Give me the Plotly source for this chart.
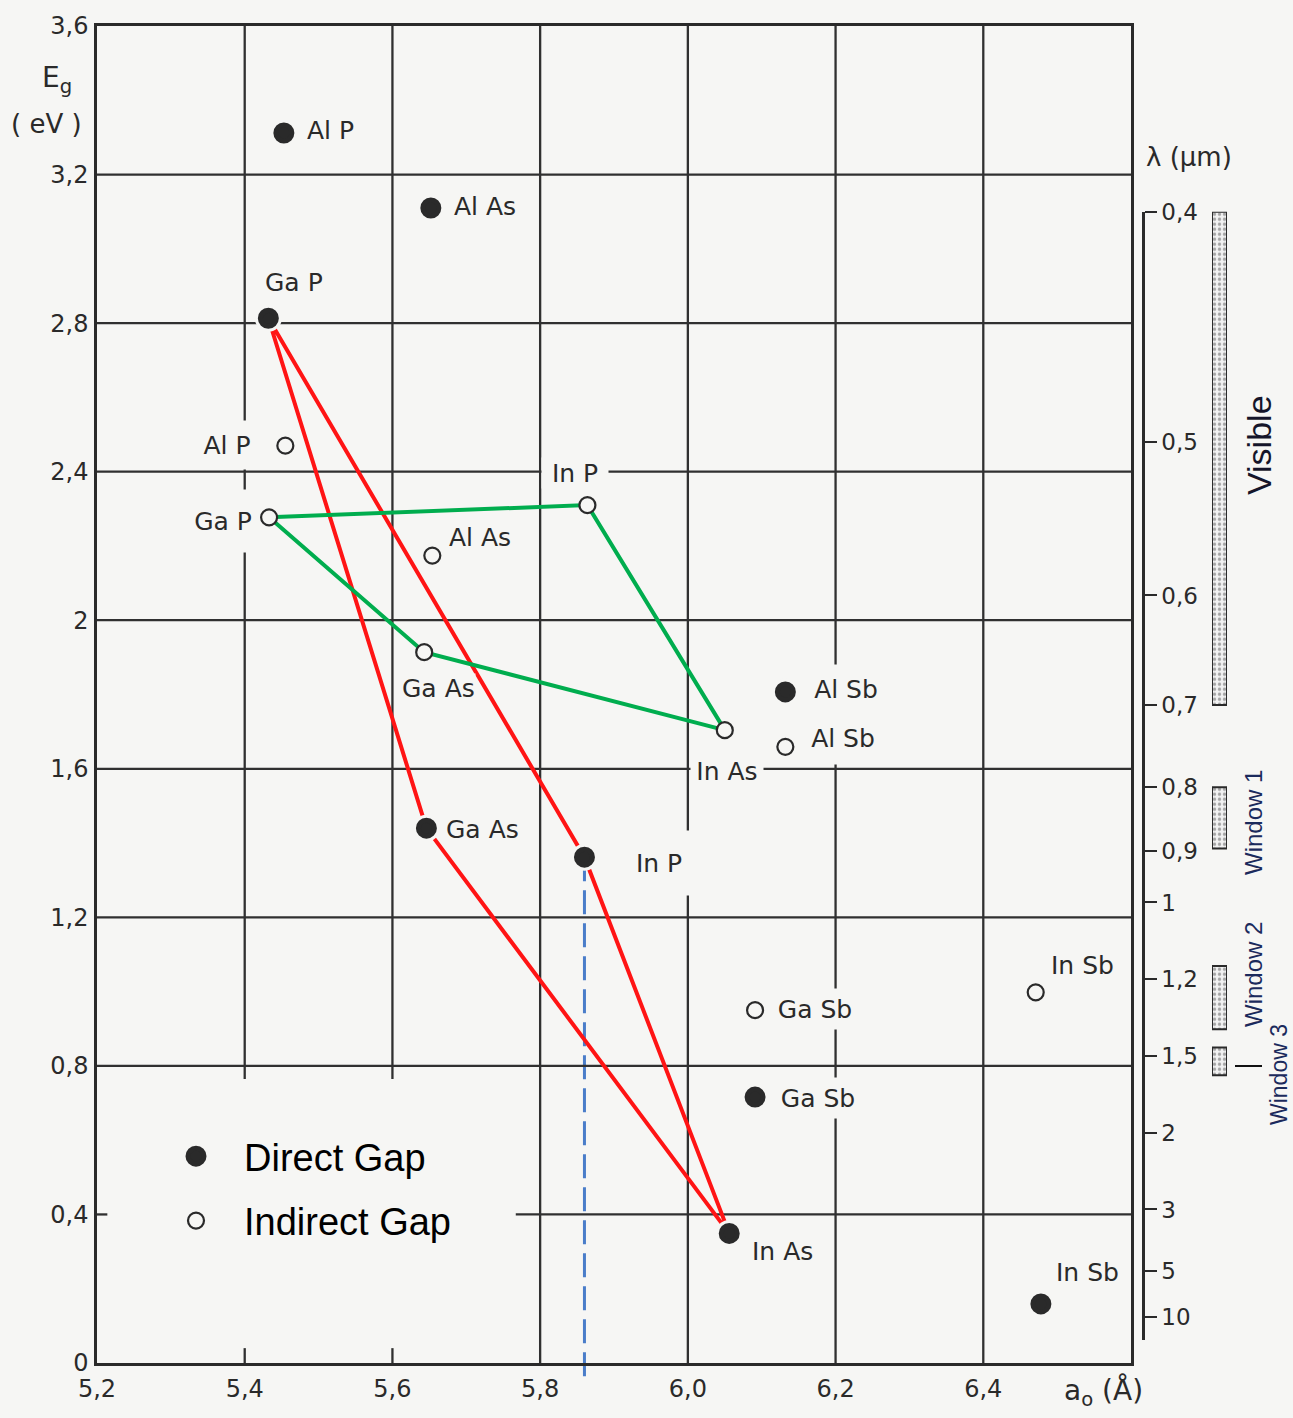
import plotly.graph_objects as go

# ---------------- data ----------------
compounds = ["AlP", "AlAs", "GaP", "GaAs", "InP", "AlSb", "GaSb", "InAs", "InSb"]
label_text = ["Al P", "Al As", "Ga P", "Ga As", "In P", "Al Sb", "Ga Sb", "In As", "In Sb"]

direct_a0 = [5.453, 5.652, 5.432, 5.646, 5.860, 6.132, 6.091, 6.056, 6.478]
direct_eg = [3.312, 3.110, 2.813, 1.440, 1.362, 1.807, 0.716, 0.349, 0.159]

indirect_a0 = [5.455, 5.654, 5.433, 5.643, 5.864, 6.132, 6.091, 6.050, 6.471]
indirect_eg = [2.470, 2.174, 2.277, 1.914, 2.310, 1.659, 0.950, 1.704, 0.998]

red_path = ["GaP", "GaAs", "InAs", "InP", "GaP"]      # direct-gap quadrilateral
green_path = ["GaP", "InP", "InAs", "GaAs", "GaP"]    # indirect-gap quadrilateral
lattice_marker = "InP"                                 # dashed vertical at InP

x_tickvals = [5.2, 5.4, 5.6, 5.8, 6.0, 6.2, 6.4]
x_ticktext = ["5,2", "5,4", "5,6", "5,8", "6,0", "6,2", "6,4"]
y_tickvals = [0, 0.4, 0.8, 1.2, 1.6, 2.0, 2.4, 2.8, 3.2, 3.6]
y_ticktext = ["0", "0,4", "0,8", "1,2", "1,6", "2", "2,4", "2,8", "3,2", "3,6"]

lambda_ticks = [0.4, 0.5, 0.6, 0.7, 0.8, 0.9, 1, 1.2, 1.5, 2, 3, 5, 10]
lambda_text = ["0,4", "0,5", "0,6", "0,7", "0,8", "0,9", "1", "1,2", "1,5", "2", "3", "5", "10"]
HC = 1.24  # eV * um

band_names = ["Visible", "Window 1", "Window 2", "Window 3"]
band_lambda_short = [0.40, 0.80, 1.16, 1.46]
band_lambda_long = [0.70, 0.895, 1.38, 1.60]

# ---------------- styling ----------------
BG = "#f6f6f4"
INK = "#2a2a2a"
LETTER = "DejaVu Sans"
FIG_W, FIG_H = 1293, 1418
M_L, M_R, M_T, M_B = 97, 13, 26, 55
PW = FIG_W - M_L - M_R
PH = FIG_H - M_T - M_B
X_RANGE = [5.2, 6.6]
Y_RANGE = [0, 3.6]


def px(x):
    return (x - M_L) / PW


def py(y):
    return (FIG_H - M_B - y) / PH


x_dom_end = px(1131)

# label offsets in pixels (dx right, dy down)
direct_label_dx = [47, 54, 26, 56, 75, 61, 63, 53, 47]
direct_label_dy = [-2, -1, -36, 1, 6, -3, 1, 18, -31]
indirect_label_dx = [-58, 48, -46, 14, -12, 58, 60, 2, 47]
indirect_label_dy = [-1, -18, 4, 36, -32, -9, -1, 41, -27]
mask_boxes = {("i", "AlP"): (60, 48), ("i", "GaP"): (62, 62), ("i", "InP"): (66, 30),
              ("i", "InAs"): (72, 30), ("d", "InP"): (64, 64),
              ("d", "AlSb"): (72, 48), ("i", "AlSb"): (72, 52),
              ("d", "GaSb"): (76, 40), ("i", "GaSb"): (76, 40)}


def path_xy(names, xs, ys):
    idx = [compounds.index(n) for n in names]
    return [xs[i] for i in idx], [ys[i] for i in idx]


fig = go.Figure()

rx, ry = path_xy(red_path, direct_a0, direct_eg)
fig.add_trace(go.Scatter(x=rx, y=ry, mode="lines", line=dict(color="#ff1414", width=4),
                         showlegend=False, hoverinfo="skip"))
gx, gy = path_xy(green_path, indirect_a0, indirect_eg)
fig.add_trace(go.Scatter(x=gx, y=gy, mode="lines", line=dict(color="#00ad4e", width=4),
                         showlegend=False, hoverinfo="skip"))
# halo so lines stop short of the filled dots
fig.add_trace(go.Scatter(x=direct_a0, y=direct_eg, mode="markers",
                         marker=dict(size=27, color=BG), showlegend=False, hoverinfo="skip"))
fig.add_trace(go.Scatter(x=direct_a0, y=direct_eg, mode="markers", name="Direct Gap", legendgroup="d",
                         marker=dict(size=16, color=INK, line=dict(color=INK, width=5))))
fig.add_trace(go.Scatter(x=indirect_a0, y=indirect_eg, mode="markers", name="Indirect Gap", legendgroup="i",
                         marker=dict(size=16, color=BG, line=dict(color=INK, width=2.2))))

# spectral bands on the wavelength scale
fig.add_trace(go.Bar(
    x=[0] * len(band_names),
    base=[HC / l for l in band_lambda_long],
    y=[HC / s - HC / l for s, l in zip(band_lambda_short, band_lambda_long)],
    width=1, xaxis="x2", yaxis="y2", showlegend=False, hoverinfo="skip", textposition="none",
    marker=dict(color="#f0f0f0", line=dict(color=INK, width=2),
                pattern=dict(shape=".", fgcolor="#555555", bgcolor="#f2f2f2", size=5, solidity=0.35)),
))

# ---------------- grid as shapes ----------------
shapes = []
grid_line = dict(color="#303030", width=2.3)
for xv in x_tickvals[1:]:
    shapes.append(dict(type="line", xref="x", yref="y", x0=xv, x1=xv, y0=Y_RANGE[0], y1=Y_RANGE[1],
                       line=grid_line, layer="below"))
for yv in y_tickvals[1:-1]:
    shapes.append(dict(type="line", xref="x", yref="y", x0=X_RANGE[0], x1=X_RANGE[1], y0=yv, y1=yv,
                       line=grid_line, layer="below"))
# blank area where the legend sits
shapes.append(dict(type="rect", xref="x", yref="y", x0=5.2, x1=5.767, y0=0.0, y1=0.765,
                   fillcolor=BG, line=dict(width=0), layer="below"))
for xv in (5.4, 5.6):
    shapes.append(dict(type="line", xref="x", yref="y", x0=xv, x1=xv, y0=0, y1=0.04,
                       line=grid_line, layer="below"))
shapes.append(dict(type="line", xref="x", yref="y", x0=5.2, x1=5.214, y0=0.4, y1=0.4,
                   line=grid_line, layer="below"))
# dashed lattice-match line
li = compounds.index(lattice_marker)
shapes.append(dict(type="line", xref="x", yref="paper", x0=direct_a0[li], x1=direct_a0[li],
                   y0=direct_eg[li] / Y_RANGE[1], y1=-15 / PH,
                   line=dict(color="#4a7dc9", width=3, dash="24px,9px"), layer="below"))
# leader dash next to the Window 3 band
shapes.append(dict(type="line", xref="paper", yref="paper", x0=px(1235), x1=px(1262),
                   y0=py(1066), y1=py(1066), line=dict(color="#111111", width=2)))

# ---------------- annotations ----------------
ann = []


def add_label(kind, i, xs, ys, dxs, dys):
    box = mask_boxes.get((kind, compounds[i]))
    a = dict(x=xs[i], y=ys[i], xref="x", yref="y", text=label_text[i], showarrow=False,
             xanchor="center", yanchor="middle",
             xshift=dxs[i], yshift=-dys[i], font=dict(family=LETTER, size=25, color=INK),
             bgcolor=BG, borderpad=0)
    if box:
        a["width"], a["height"] = box
    ann.append(a)


for i in range(len(compounds)):
    add_label("d", i, direct_a0, direct_eg, direct_label_dx, direct_label_dy)
    add_label("i", i, indirect_a0, indirect_eg, indirect_label_dx, indirect_label_dy)


def text_at(x, y, text, size=26, color=INK, family=LETTER, angle=0):
    ann.append(dict(x=px(x), y=py(y), xref="paper", yref="paper", text=text, showarrow=False,
                    xanchor="center", yanchor="middle",
                    textangle=angle, font=dict(family=family, size=size, color=color)))


text_at(57, 80, "E<sub>g</sub>", 28)
text_at(46, 124, "( eV )", 26)
text_at(1189, 157, "λ (μm)", 26)
text_at(1103, 1392, "a<sub>o</sub> (Å)", 28)
text_at(1259, 445, "Visible", 34, "#15152a", "Liberation Sans, Arial", -90)
text_at(1253, 823, "Window 1", 24, "#1b2a5c", "Liberation Sans, Arial", -90)
text_at(1253, 975, "Window 2", 24, "#1b2a5c", "Liberation Sans, Arial", -90)
text_at(1279, 1075, "Window 3", 23, "#1b2a5c", "Liberation Sans, Arial", -90)

y2_lo, y2_hi = 0.062, HC / 0.4

fig.update_layout(
    width=FIG_W, height=FIG_H,
    margin=dict(l=M_L, r=M_R, t=M_T, b=M_B, autoexpand=False),
    paper_bgcolor=BG, plot_bgcolor=BG,
    showlegend=True,
    legend=dict(x=px(148), y=py(1125), xanchor="left", yanchor="top", traceorder="grouped",
                font=dict(family="Liberation Sans, Arial", size=38, color="black"),
                bgcolor="rgba(0,0,0,0)", itemwidth=86, tracegroupgap=12),
    xaxis=dict(domain=[0, x_dom_end], range=X_RANGE, tickvals=x_tickvals, ticktext=x_ticktext,
               showgrid=False, zeroline=False, showline=True, mirror=True, linecolor=INK, linewidth=2.5,
               ticks="", ticklabelstandoff=2, tickfont=dict(family=LETTER, size=24, color=INK)),
    yaxis=dict(domain=[0, 1], range=Y_RANGE, tickvals=y_tickvals, ticktext=y_ticktext,
               showgrid=False, zeroline=False, showline=True, mirror=True, linecolor=INK, linewidth=2.5,
               ticks="", ticklabelstandoff=1, tickfont=dict(family=LETTER, size=24, color=INK)),
    xaxis2=dict(domain=[px(1212), px(1227)], anchor="y2", range=[-0.5, 0.5], visible=False),
    yaxis2=dict(domain=[y2_lo / Y_RANGE[1], y2_hi / Y_RANGE[1]], range=[y2_lo, y2_hi],
                anchor="free", position=px(1143), side="right",
                tickvals=[HC / l for l in lambda_ticks], ticktext=lambda_text,
                showgrid=False, zeroline=False, showline=True, linecolor=INK, linewidth=2.5,
                ticks="outside", ticklen=12, tickwidth=2, tickcolor=INK,
                tickfont=dict(family=LETTER, size=23, color=INK)),
    shapes=shapes, annotations=ann,
)

fig.write_html("out.html")
